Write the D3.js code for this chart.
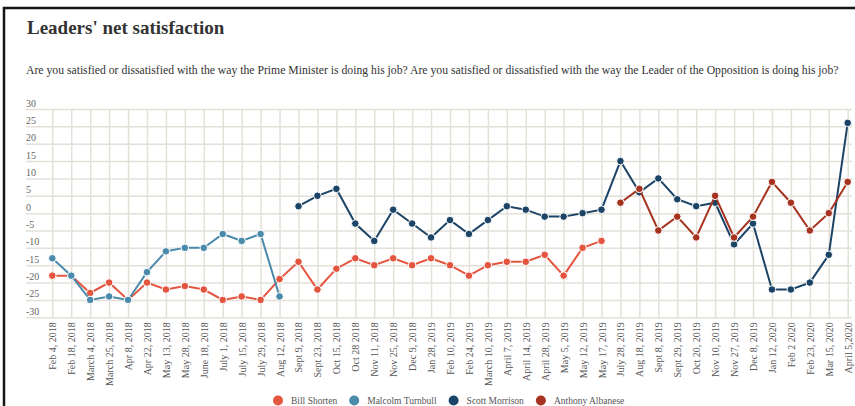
<!DOCTYPE html><html>
<head>
  <meta charset="utf-8">
  <title>Leaders' net satisfaction</title>
  <style>
    body { margin: 0; background: #fff; font-family: "Liberation Serif", "DejaVu Serif", serif; }
    svg text { font-family: "Liberation Serif", "DejaVu Serif", serif; }
    .grid line { stroke: #e3e0d8; stroke-width: 1.5; }
    .grid .domain { display: none; }
  </style>
</head><body>
<svg width="855" height="406"></svg>

<script src="https://cdn.jsdelivr.net/npm/d3@7/dist/d3.min.js"></script>
<script>
var dates = ['Feb 4, 2018', 'Feb 18, 2018', 'March 4, 2018', 'March 25, 2018', 'Apr 8, 2018',
  'Apr 22, 2018', 'May 13, 2018', 'May 28, 2018', 'June 18, 2018', 'July 1, 2018', 'July 15, 2018',
  'July 29, 2018', 'Aug 12, 2018', 'Sept 9, 2018', 'Sept 23, 2018', 'Oct 15, 2018', 'Oct 28 2018',
  'Nov 11, 2018', 'Nov 25, 2018', 'Dec 9, 2018', 'Jan 28, 2019', 'Feb 10, 2019', 'Feb 24, 2019',
  'March 10, 2019', 'April 7, 2019', 'April 14, 2019', 'April 28, 2019', 'May 5, 2019',
  'May 12, 2019', 'May 17, 2019', 'July 28, 2019', 'Aug 18, 2019', 'Sept 8, 2019', 'Sept 29, 2019',
  'Oct 20, 2019', 'Nov 10, 2019', 'Nov 27, 2019', 'Dec 8, 2019', 'Jan 12, 2020', 'Feb 2 2020',
  'Feb 23, 2020', 'Mar 15, 2020', 'April 5,2020'];

// null where the leader was not polled
var shorten = [-18, -18, -23, -20, -25, -20, -22, -21, -22, -25, -24, -25, -19, -14, -22, -16, -13,
  -15, -13, -15, -13, -15, -18, -15, -14, -14, -12, -18, -10, -8,
  null, null, null, null, null, null, null, null, null, null, null, null, null];
var turnbull = [-13, -18, -25, -24, -25, -17, -11, -10, -10, -6, -8, -6, -24,
  null, null, null, null, null, null, null, null, null, null, null, null, null, null, null, null, null,
  null, null, null, null, null, null, null, null, null, null, null, null, null];
var morrison = [null, null, null, null, null, null, null, null, null, null, null, null, null,
  2, 5, 7, -3, -8, 1, -3, -7, -2, -6, -2, 2, 1, -1, -1, 0, 1,
  15, 6, 10, 4, 2, 3, -9, -3, -22, -22, -20, -12, 26];
var albanese = [null, null, null, null, null, null, null, null, null, null, null, null, null,
  null, null, null, null, null, null, null, null, null, null, null, null, null, null, null, null, null,
  3, 7, -5, -1, -7, 5, -7, -1, 9, 3, -5, 0, 9];

var names  = ['Bill Shorten', 'Malcolm Turnbull', 'Scott Morrison', 'Anthony Albanese'];
var colors = ['#e4553f', '#4a8aab', '#1c4466', '#a6331f'];
var yTicks = [-30, -25, -20, -15, -10, -5, 0, 5, 10, 15, 20, 25, 30];

var series = [shorten, turnbull, morrison, albanese];

var svg = d3.select('svg');

// frame
svg.append('rect')
  .attr('x', 4).attr('y', 8).attr('width', 900).attr('height', 500)
  .attr('fill', 'none').attr('stroke', '#151515').attr('stroke-width', 2.5);

svg.append('text')
  .attr('x', 27).attr('y', 34)
  .attr('font-size', 19).attr('font-weight', 'bold').attr('fill', '#333')
  .text("Leaders' net satisfaction");

svg.append('text')
  .attr('x', 26).attr('y', 74)
  .attr('font-size', 11.7).attr('fill', '#333')
  .text('Are you satisfied or dissatisfied with the way the Prime Minister is doing his job? Are you satisfied or dissatisfied with the way the Leader of the Opposition is doing his job?');

var x = d3.scalePoint().domain(dates).range([52.3, 847.7]);
var y = d3.scaleLinear().domain([-30, 30]).range([317.3, 109]);

// horizontal grid + labels sitting on the lines
var yAxis = svg.append('g')
  .attr('class', 'grid')
  .attr('transform', 'translate(26,0)')
  .call(d3.axisLeft(y).tickValues(yTicks).tickSize(-826).tickFormat(function(d) { return String(d); }));
yAxis.selectAll('text')
  .attr('x', 0).attr('y', -3).attr('dy', null)
  .attr('text-anchor', 'start')
  .attr('font-size', 10).attr('fill', '#666');

// vertical grid + rotated dates
var xAxis = svg.append('g')
  .attr('class', 'grid')
  .attr('transform', 'translate(0,' + y(-30) + ')')
  .call(d3.axisBottom(x).tickSize(-(y(-30) - y(30))).tickSizeOuter(0));
xAxis.selectAll('text')
  .attr('transform', 'rotate(-90)')
  .attr('x', -5).attr('y', 0).attr('dy', '0.35em')
  .attr('text-anchor', 'end')
  .attr('font-size', 10).attr('fill', '#555');

var line = d3.line()
  .defined(function(d) { return d != null; })
  .x(function(d, i) { return x(dates[i]); })
  .y(function(d) { return y(d); });

series.forEach(function(s, k) {
  svg.append('path')
    .datum(s)
    .attr('fill', 'none')
    .attr('stroke', colors[k])
    .attr('stroke-width', 2)
    .attr('d', line);

  svg.append('g').selectAll('circle')
      .data(s.map(function(v, i) { return {v: v, i: i}; }).filter(function(d) { return d.v != null; }))
    .enter()
      .append('circle')
      .attr('cx', function(d) { return x(dates[d.i]); })
      .attr('cy', function(d) { return y(d.v); })
      .attr('r', 3.8)
      .attr('fill', colors[k])
      .attr('stroke', '#fff')
      .attr('stroke-width', 1);
});

// legend, laid out left to right
var legend = svg.append('g');
var lx = 0;
names.forEach(function(n, k) {
  legend.append('circle')
    .attr('cx', lx).attr('cy', 400.5).attr('r', 5)
    .attr('fill', colors[k]);
  var t = legend.append('text')
    .attr('x', lx + 13).attr('y', 404)
    .attr('font-size', 9.5).attr('fill', '#555')
    .text(n);
  lx = lx + 13 + t.node().getComputedTextLength() + 17;
});
legend.attr('transform', 'translate(278,0)');
</script>
</body></html>
